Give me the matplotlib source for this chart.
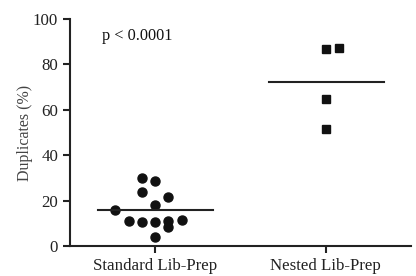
import matplotlib
matplotlib.use('Agg')
import matplotlib.pyplot as plt
import numpy as np

plt.rcParams['font.family'] = ['Liberation Serif', 'DejaVu Serif']

groups = ['Standard Lib-Prep', 'Nested Lib-Prep']
# duplicates (%) per sample, with scatter column offset as shown on the plot
standard = [29.8, 28.7, 23.9, 21.4, 18.0, 15.8, 11.1, 10.7, 10.7, 11.0, 11.4, 8.2, 4.1]
standard_col = [-1, 0, -1, 1, 0, -3, -2, -1, 0, 1, 2, 1, 0]
nested = [86.6, 87.2, 64.6, 51.4]
nested_col = [0, 1, 0, 0]
p_text = 'p < 0.0001'

col_w = 0.078

fig = plt.figure(figsize=(4.16, 2.76), dpi=100)
ax = fig.add_axes([0.168, 0.109, 0.82, 0.822])

ax.plot(0 + np.array(standard_col) * col_w, standard, 'o', color='#111111', ms=6.5, mec='#111111')
ax.plot(1 + np.array(nested_col) * col_w, nested, 's', color='#111111', ms=6.3, mec='#111111')

for i, vals in enumerate([standard, nested]):
    m = np.mean(vals)
    ax.plot([i - 0.335, i + 0.34], [m, m], color='#222222', lw=1.5)

ax.set_xlim(-0.5, 1.5)
ax.set_ylim(0, 100)
ax.set_xticks([0, 1])
ax.set_xticklabels(groups, fontsize=12.2)
ax.set_yticks([0, 20, 40, 60, 80, 100])
ax.tick_params(axis='both', labelsize=12.2, width=1.5, length=5, color='#222222', labelcolor='#222222')
ax.set_ylabel('Duplicates (%)', fontsize=11.5, color='#444444')
ax.yaxis.set_label_coords(-0.108, 0.5)
for s in ['top', 'right']:
    ax.spines[s].set_visible(False)
for s in ['left', 'bottom']:
    ax.spines[s].set_linewidth(1.5)
    ax.spines[s].set_color('#222222')

ax.text(0.095, 0.96, p_text, transform=ax.transAxes, fontsize=11.7, va='top', ha='left', color='#111111')

fig.savefig('out.png', dpi=100)
